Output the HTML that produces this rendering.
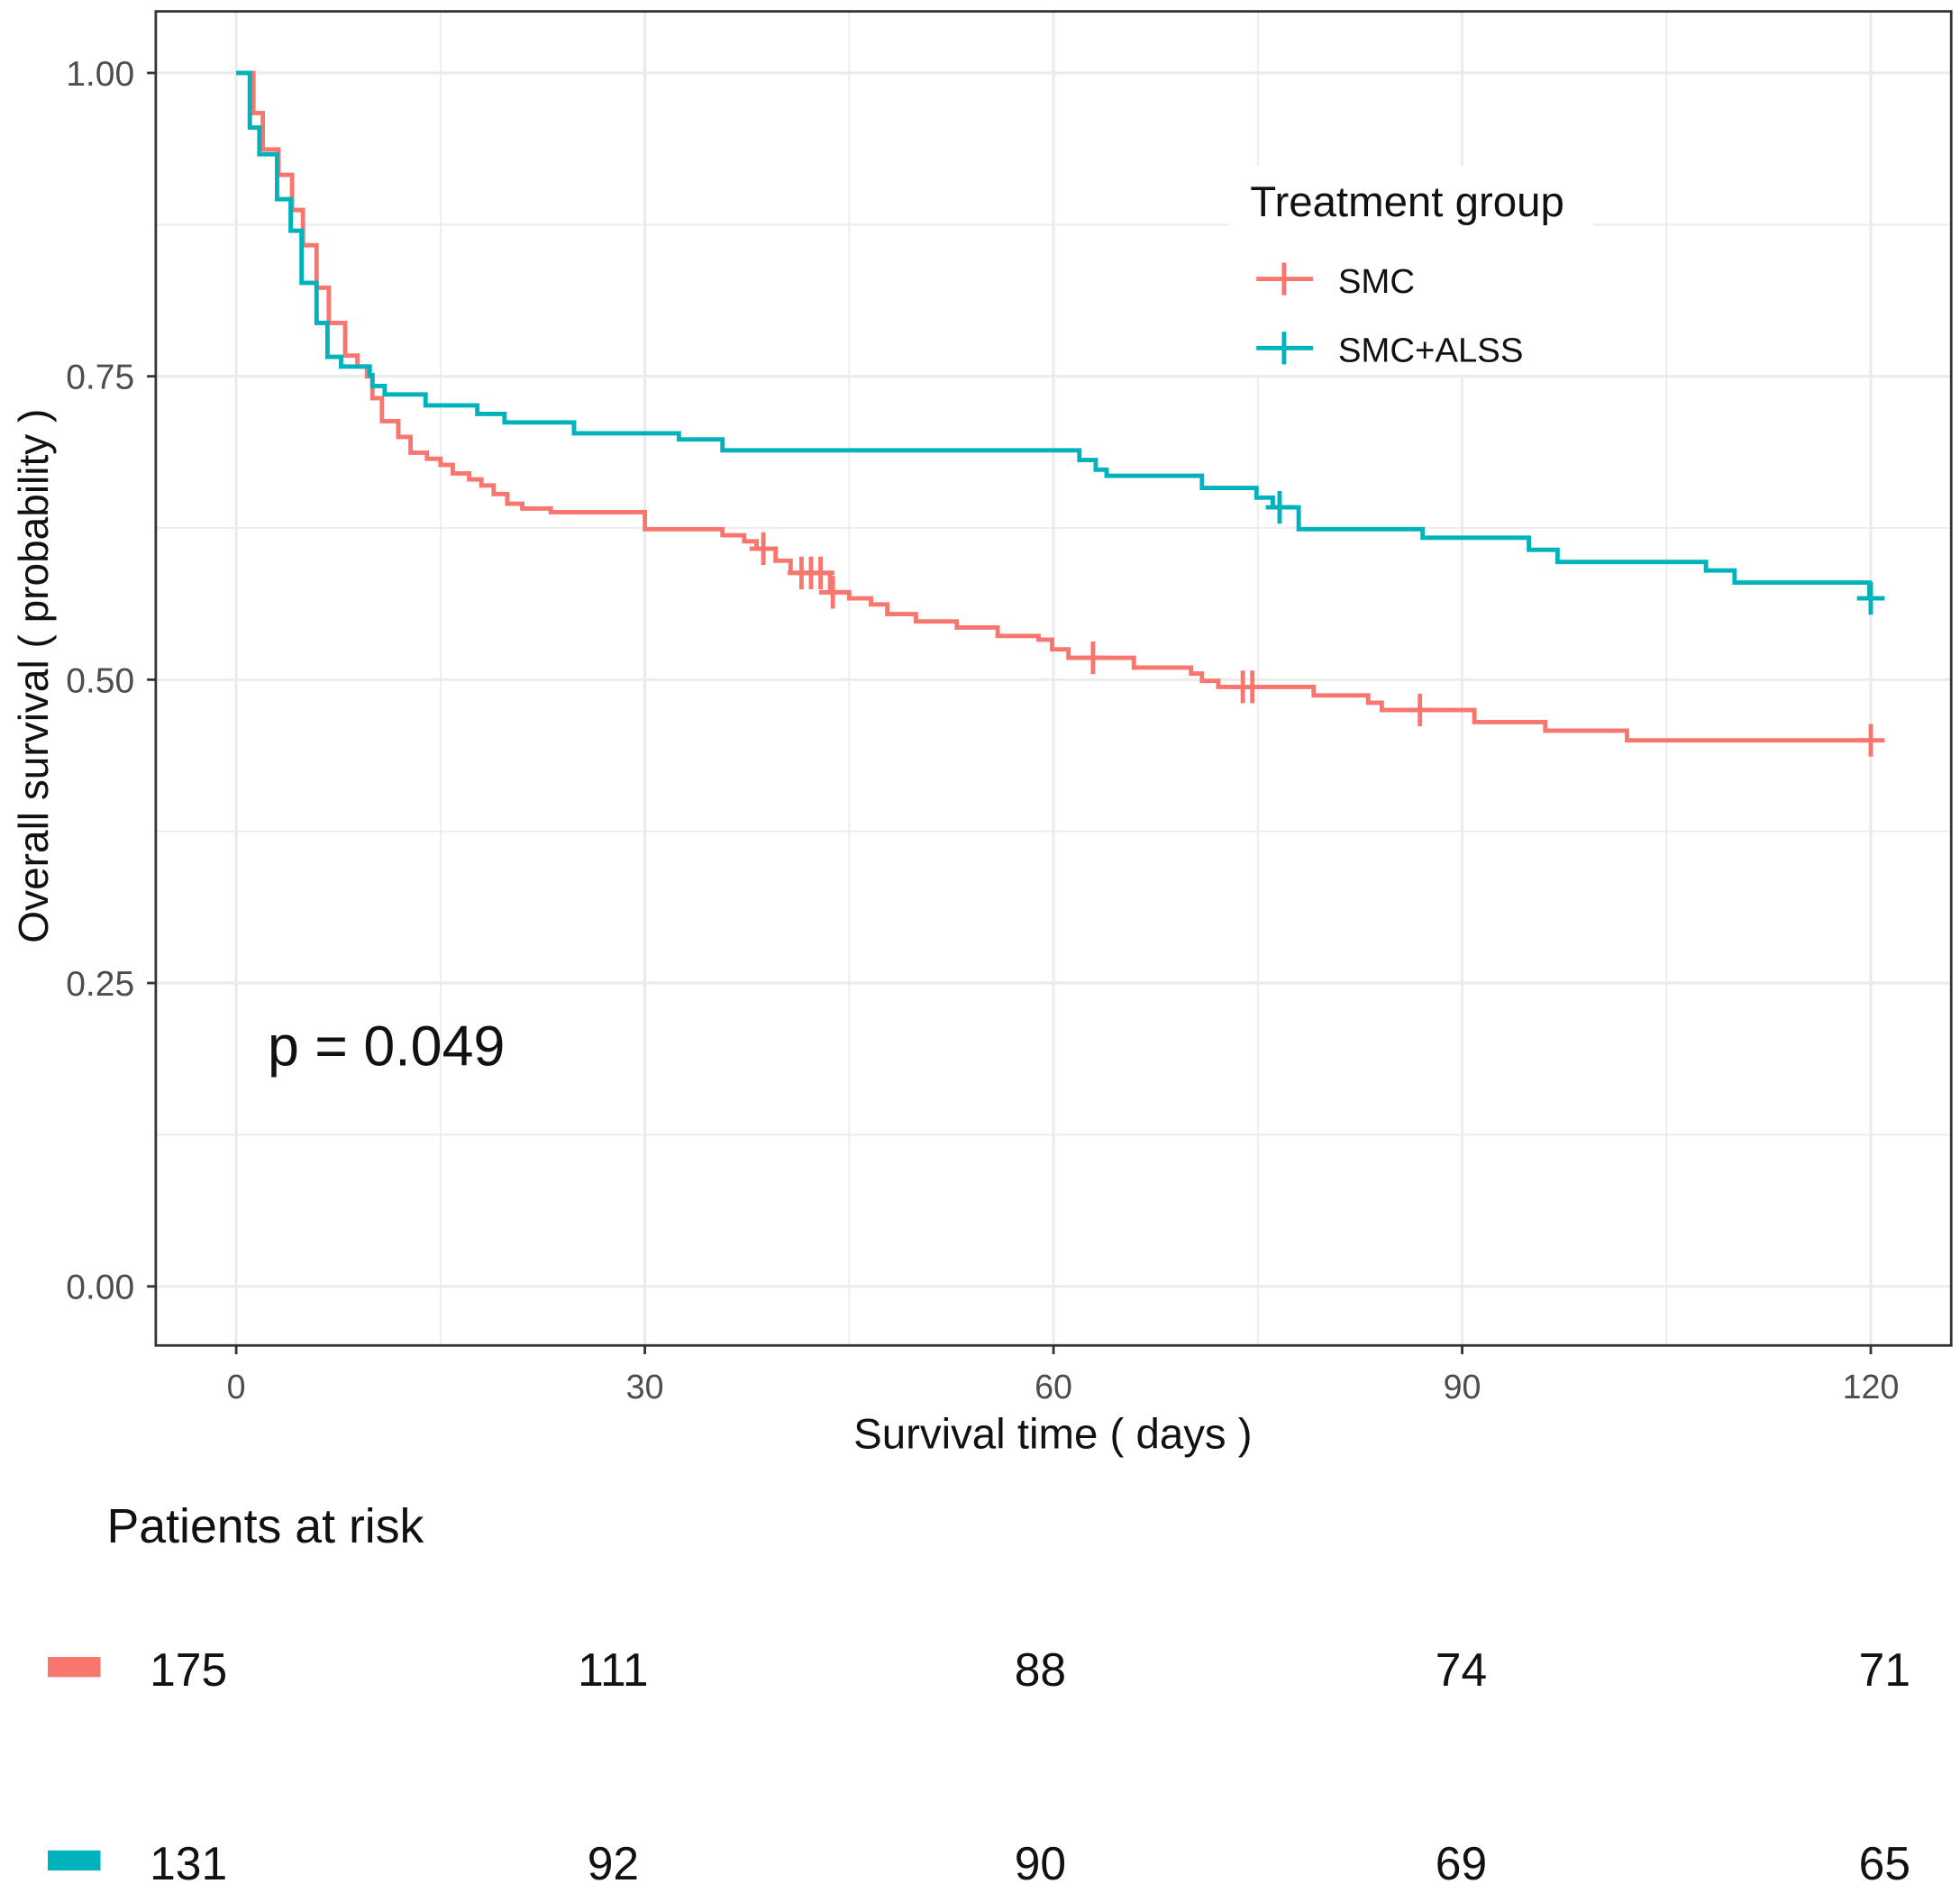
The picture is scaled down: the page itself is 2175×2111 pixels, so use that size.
<!DOCTYPE html>
<html><head><meta charset="utf-8">
<style>
html,body{margin:0;padding:0;background:#fff;}
svg{display:block;}
text{font-family:"Liberation Sans",Arial,sans-serif;}
</style></head>
<body>
<svg id="chart" width="2175" height="2111" viewBox="0 0 1560 1514" xmlns="http://www.w3.org/2000/svg">
<rect x="0" y="0" width="1560" height="1514" fill="#fff"/>
<g id="grid"></g>
<g id="curves"></g>
<rect x="124" y="9" width="1429" height="1062" fill="none" stroke="#333" stroke-width="2"/>
<g id="axes"></g>
<g>
  <rect x="978" y="132" width="290" height="166" fill="#fff"/>
  <text x="995" y="172" font-size="34" fill="#111">Treatment group</text>
  <g>
    <line x1="1000" y1="222" x2="1045" y2="222" stroke="#F8766D" stroke-width="3.5"/>
    <line x1="1022" y1="209" x2="1022" y2="235" stroke="#F8766D" stroke-width="3.5"/>
    <text x="1065" y="233" font-size="27.5" fill="#111">SMC</text>
  </g>
  <g>
    <line x1="1000" y1="277" x2="1045" y2="277" stroke="#00B2BB" stroke-width="3.5"/>
    <line x1="1022" y1="264" x2="1022" y2="290" stroke="#00B2BB" stroke-width="3.5"/>
    <text x="1065" y="288" font-size="27.5" fill="#111">SMC+ALSS</text>
  </g>
</g>
<text x="213" y="848" font-size="45" fill="#111">p = 0.049</text>
<text x="838" y="1153" font-size="34" fill="#111" text-anchor="middle">Survival time ( days )</text>
<text transform="translate(38,538) rotate(-90)" font-size="33" fill="#111" text-anchor="middle">Overall survival ( probability )</text>
<text x="85" y="1228" font-size="38.5" fill="#111">Patients at risk</text>
<g id="risk"></g>
</svg>
<script>
var NS="http://www.w3.org/2000/svg";
var xTicks=[0,30,60,90,120];
var yTicks=[0,0.25,0.5,0.75,1.0];
var yTickLabels=["0.00","0.25","0.50","0.75","1.00"];
var smcTimes=[0,1.26,1.95,3.1,4.1,4.9,5.9,6.8,8.0,8.9,9.6,10.0,10.7,11.9,12.8,14.0,15.0,15.9,17.1,18.0,18.9,19.9,21.0,23.1,30.0,35.7,37.3,38.2,39.6,40.7,43.6,45.0,46.6,47.8,49.9,52.9,55.9,58.9,59.9,61.1,65.9,70.1,70.9,72.1,79.1,83.1,84.1,90.9,96.1,102.1];
var smcSurv=[1.0,0.967,0.937,0.916,0.887,0.858,0.823,0.794,0.767,0.758,0.750,0.732,0.713,0.700,0.687,0.682,0.677,0.670,0.665,0.660,0.653,0.645,0.641,0.638,0.624,0.619,0.614,0.608,0.598,0.588,0.572,0.567,0.562,0.554,0.548,0.543,0.536,0.533,0.525,0.518,0.510,0.505,0.499,0.494,0.487,0.481,0.475,0.465,0.458,0.450];
var smcCensor=[38.7,41.5,42.2,42.9,43.8,62.9,73.9,74.6,86.9,120];
var alssTimes=[0,1.0,1.7,3.0,4.0,4.8,5.9,6.7,7.7,9.8,10.0,10.9,13.9,17.7,19.7,24.8,32.5,35.7,61.9,63.1,63.9,70.9,74.9,76.1,78.0,87.1,94.9,97.0,107.9,110.0,119.9];
var alssSurv=[1.0,0.955,0.933,0.896,0.870,0.827,0.794,0.766,0.758,0.751,0.742,0.735,0.726,0.719,0.712,0.703,0.698,0.689,0.681,0.673,0.668,0.658,0.650,0.642,0.624,0.617,0.607,0.597,0.590,0.580,0.567];
var alssCensor=[76.6,120];
var riskSmc=[175,111,88,74,71];
var riskAlss=[131,92,90,69,65];
var xMax=120;

function X(d){return 188+(1489-188)*d/120;}
function Y(v){return 1024-966*v;}
function mk(tag,attrs,parent){var e=document.createElementNS(NS,tag);for(var k in attrs)e.setAttribute(k,attrs[k]);parent.appendChild(e);return e;}

var grid=document.getElementById('grid');
for(var d=0;d<=120;d+=15){
  var gl=mk('line',{x1:X(d),x2:X(d),y1:10,y2:1070,stroke:'#ebebeb','stroke-width':(d%30===0)?2.2:1.3},grid);
  
  
}
for(var v=0;v<=1.0001;v+=0.125){
  var gh=mk('line',{x1:125,x2:1552,y1:Y(v),y2:Y(v),stroke:'#ebebeb','stroke-width':(Math.round(v*8)%2===0)?2.2:1.3},grid);
  
  
}
var axes=document.getElementById('axes');
xTicks.forEach(function(t){
  var tk=mk('line',{x1:X(t),x2:X(t),y1:1071,y2:1078,stroke:'#333','stroke-width':2},axes);
  
  
  var tl=mk('text',{x:X(t),y:1113,'font-size':27,fill:'#4d4d4d','text-anchor':'middle'},axes);
  tl.textContent=String(t);
  
  
});
yTicks.forEach(function(t,i){
  var tk=mk('line',{x1:117,x2:124,y1:Y(t),y2:Y(t),stroke:'#333','stroke-width':2},axes);
  
  
  var tl=mk('text',{x:107,y:Y(t)+10,'font-size':28,fill:'#4d4d4d','text-anchor':'end'},axes);
  tl.textContent=yTickLabels[i];
  
  
});

function stepAt(times,surv,t){var s=surv[0];for(var i=0;i<times.length;i++){if(times[i]<=t)s=surv[i];}return s;}
function drawCurve(times,surv,censor,color,name){
  var g=document.getElementById('curves');
  var d='M'+X(times[0])+','+Y(surv[0]);
  for(var i=1;i<times.length;i++){d+=' H'+X(times[i])+' V'+Y(surv[i]);}
  d+=' H'+X(xMax);
  var p=mk('path',{d:d,fill:'none',stroke:color,'stroke-width':3.5},g);
  
  
  censor.forEach(function(c){
    var yv=Y(stepAt(times,surv,c)),xv=X(c);
    var m=mk('path',{d:'M'+(xv-11)+','+yv+' H'+(xv+11)+' M'+xv+','+(yv-13)+' V'+(yv+13),stroke:color,'stroke-width':3.5,fill:'none'},g);
    
    
  });
}
drawCurve(smcTimes,smcSurv,smcCensor,'#F8766D','smc');
drawCurve(alssTimes,alssSurv,alssCensor,'#00B2BB','smc-alss');

var risk=document.getElementById('risk');
var riskX=[150,488,828,1163,1500];
function drawRow(vals,y,color,name){
  var r=mk('rect',{x:38,y:y-23,width:42,height:16,fill:color},risk);
  
  
  vals.forEach(function(v,i){
    var t=mk('text',{x:riskX[i],y:y,'font-size':37,fill:'#111','text-anchor':'middle'},risk);
    t.textContent=String(v);
    
    
  });
}
drawRow(riskSmc,1342,'#F8766D','smc');
drawRow(riskAlss,1496,'#00B2BB','smc-alss');
</script>
</body></html>
